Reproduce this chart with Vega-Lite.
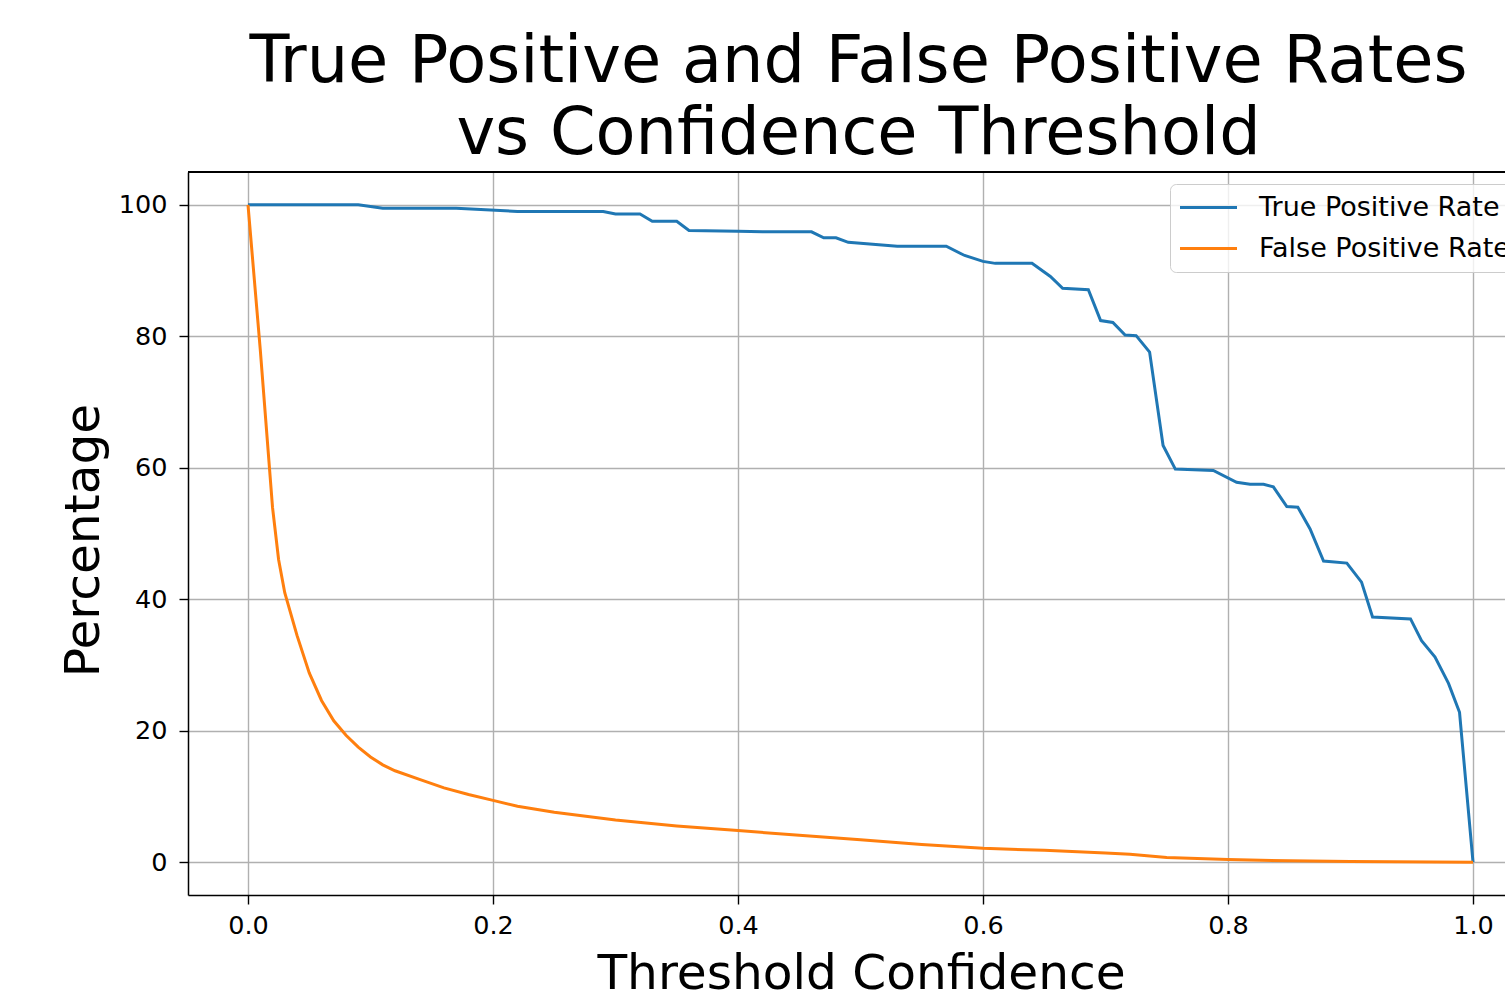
{
  "$schema": "https://vega.github.io/schema/vega-lite/v6.json",
  "width": 1317,
  "height": 723,
  "autosize": {"type": "none"},
  "padding": {"left": 188, "top": 172, "right": 0, "bottom": 96},
  "background": "white",
  "config": {"view": {"stroke": null}, "font": "DejaVu Sans"},
  "title": {
    "text": ["True Positive and False Positive Rates", "vs Confidence Threshold"],
    "font": "DejaVu Sans",
    "fontSize": 65.4,
    "fontWeight": "normal",
    "color": "black",
    "lineHeight": 72,
    "anchor": "middle",
    "frame": "group",
    "baseline": "alphabetic",
    "offset": 18,
    "dx": 12,
    "dy": 66
  },
  "data": {
    "values": [
      {"series": "True Positive Rate", "threshold": 0.0, "percent": 100},
      {"series": "True Positive Rate", "threshold": 0.09, "percent": 100},
      {"series": "True Positive Rate", "threshold": 0.11, "percent": 99.5},
      {"series": "True Positive Rate", "threshold": 0.17, "percent": 99.5},
      {"series": "True Positive Rate", "threshold": 0.19, "percent": 99.3},
      {"series": "True Positive Rate", "threshold": 0.22, "percent": 99.0},
      {"series": "True Positive Rate", "threshold": 0.29, "percent": 99.0},
      {"series": "True Positive Rate", "threshold": 0.30, "percent": 98.6},
      {"series": "True Positive Rate", "threshold": 0.32, "percent": 98.6},
      {"series": "True Positive Rate", "threshold": 0.33, "percent": 97.5},
      {"series": "True Positive Rate", "threshold": 0.35, "percent": 97.5},
      {"series": "True Positive Rate", "threshold": 0.36, "percent": 96.1},
      {"series": "True Positive Rate", "threshold": 0.40, "percent": 96.0},
      {"series": "True Positive Rate", "threshold": 0.42, "percent": 95.9},
      {"series": "True Positive Rate", "threshold": 0.46, "percent": 95.9},
      {"series": "True Positive Rate", "threshold": 0.47, "percent": 95.0},
      {"series": "True Positive Rate", "threshold": 0.48, "percent": 95.0},
      {"series": "True Positive Rate", "threshold": 0.49, "percent": 94.3},
      {"series": "True Positive Rate", "threshold": 0.53, "percent": 93.7},
      {"series": "True Positive Rate", "threshold": 0.57, "percent": 93.7},
      {"series": "True Positive Rate", "threshold": 0.585, "percent": 92.3},
      {"series": "True Positive Rate", "threshold": 0.60, "percent": 91.4},
      {"series": "True Positive Rate", "threshold": 0.61, "percent": 91.1},
      {"series": "True Positive Rate", "threshold": 0.64, "percent": 91.1},
      {"series": "True Positive Rate", "threshold": 0.655, "percent": 89.1},
      {"series": "True Positive Rate", "threshold": 0.665, "percent": 87.3},
      {"series": "True Positive Rate", "threshold": 0.686, "percent": 87.1},
      {"series": "True Positive Rate", "threshold": 0.696, "percent": 82.4},
      {"series": "True Positive Rate", "threshold": 0.706, "percent": 82.1},
      {"series": "True Positive Rate", "threshold": 0.716, "percent": 80.2},
      {"series": "True Positive Rate", "threshold": 0.725, "percent": 80.1},
      {"series": "True Positive Rate", "threshold": 0.736, "percent": 77.6},
      {"series": "True Positive Rate", "threshold": 0.747, "percent": 63.4},
      {"series": "True Positive Rate", "threshold": 0.757, "percent": 59.8},
      {"series": "True Positive Rate", "threshold": 0.788, "percent": 59.6},
      {"series": "True Positive Rate", "threshold": 0.807, "percent": 57.8},
      {"series": "True Positive Rate", "threshold": 0.818, "percent": 57.5},
      {"series": "True Positive Rate", "threshold": 0.829, "percent": 57.5},
      {"series": "True Positive Rate", "threshold": 0.837, "percent": 57.1},
      {"series": "True Positive Rate", "threshold": 0.848, "percent": 54.1},
      {"series": "True Positive Rate", "threshold": 0.857, "percent": 54.0},
      {"series": "True Positive Rate", "threshold": 0.867, "percent": 50.7},
      {"series": "True Positive Rate", "threshold": 0.878, "percent": 45.8},
      {"series": "True Positive Rate", "threshold": 0.897, "percent": 45.5},
      {"series": "True Positive Rate", "threshold": 0.909, "percent": 42.6},
      {"series": "True Positive Rate", "threshold": 0.918, "percent": 37.3},
      {"series": "True Positive Rate", "threshold": 0.949, "percent": 37.0},
      {"series": "True Positive Rate", "threshold": 0.958, "percent": 33.7},
      {"series": "True Positive Rate", "threshold": 0.969, "percent": 31.2},
      {"series": "True Positive Rate", "threshold": 0.980, "percent": 27.2},
      {"series": "True Positive Rate", "threshold": 0.989, "percent": 22.8},
      {"series": "True Positive Rate", "threshold": 1.0, "percent": 0},
      {"series": "False Positive Rate", "threshold": 0.0, "percent": 100},
      {"series": "False Positive Rate", "threshold": 0.01, "percent": 78},
      {"series": "False Positive Rate", "threshold": 0.02, "percent": 54},
      {"series": "False Positive Rate", "threshold": 0.025, "percent": 46},
      {"series": "False Positive Rate", "threshold": 0.03, "percent": 41},
      {"series": "False Positive Rate", "threshold": 0.04, "percent": 34.5},
      {"series": "False Positive Rate", "threshold": 0.05, "percent": 28.8},
      {"series": "False Positive Rate", "threshold": 0.06, "percent": 24.6},
      {"series": "False Positive Rate", "threshold": 0.07, "percent": 21.5},
      {"series": "False Positive Rate", "threshold": 0.08, "percent": 19.3},
      {"series": "False Positive Rate", "threshold": 0.09, "percent": 17.5},
      {"series": "False Positive Rate", "threshold": 0.10, "percent": 16.0},
      {"series": "False Positive Rate", "threshold": 0.11, "percent": 14.8},
      {"series": "False Positive Rate", "threshold": 0.12, "percent": 13.9},
      {"series": "False Positive Rate", "threshold": 0.14, "percent": 12.6},
      {"series": "False Positive Rate", "threshold": 0.16, "percent": 11.3},
      {"series": "False Positive Rate", "threshold": 0.18, "percent": 10.3},
      {"series": "False Positive Rate", "threshold": 0.20, "percent": 9.4},
      {"series": "False Positive Rate", "threshold": 0.22, "percent": 8.5},
      {"series": "False Positive Rate", "threshold": 0.25, "percent": 7.6},
      {"series": "False Positive Rate", "threshold": 0.30, "percent": 6.4},
      {"series": "False Positive Rate", "threshold": 0.35, "percent": 5.5},
      {"series": "False Positive Rate", "threshold": 0.40, "percent": 4.8},
      {"series": "False Positive Rate", "threshold": 0.45, "percent": 4.1},
      {"series": "False Positive Rate", "threshold": 0.50, "percent": 3.4},
      {"series": "False Positive Rate", "threshold": 0.55, "percent": 2.7},
      {"series": "False Positive Rate", "threshold": 0.60, "percent": 2.1},
      {"series": "False Positive Rate", "threshold": 0.65, "percent": 1.8},
      {"series": "False Positive Rate", "threshold": 0.70, "percent": 1.4},
      {"series": "False Positive Rate", "threshold": 0.72, "percent": 1.2},
      {"series": "False Positive Rate", "threshold": 0.75, "percent": 0.7},
      {"series": "False Positive Rate", "threshold": 0.80, "percent": 0.4},
      {"series": "False Positive Rate", "threshold": 0.85, "percent": 0.2},
      {"series": "False Positive Rate", "threshold": 0.90, "percent": 0.1},
      {"series": "False Positive Rate", "threshold": 1.0, "percent": 0}
    ]
  },
  "layer": [
    {
      "mark": {"type": "rule", "color": "black", "strokeWidth": 1.5},
      "encoding": {"y": {"datum": 105}}
    },
    {
      "mark": {"type": "line", "strokeWidth": 3, "clip": true},
      "encoding": {
        "x": {
          "field": "threshold",
          "type": "quantitative",
          "scale": {"domain": [-0.04898, 1.02612], "nice": false, "zero": false},
          "axis": {
            "values": [0, 0.2, 0.4, 0.6, 0.8, 1.0],
            "format": ".1f",
            "grid": true,
            "gridColor": "#b0b0b0",
            "gridWidth": 1.4,
            "domainColor": "black",
            "domainWidth": 1.5,
            "tickColor": "black",
            "tickWidth": 1.4,
            "tickSize": 9,
            "labelFont": "DejaVu Sans",
            "labelFontSize": 25.5,
            "labelColor": "black",
            "labelPadding": 9,
            "title": "Threshold Confidence",
            "titleFont": "DejaVu Sans",
            "titleFontSize": 48.6,
            "titleFontWeight": "normal",
            "titleColor": "black",
            "titleX": 673,
            "titleY": 93,
            "titleAlign": "center",
            "titleBaseline": "alphabetic"
          }
        },
        "y": {
          "field": "percent",
          "type": "quantitative",
          "scale": {"domain": [-5, 105], "nice": false, "zero": false},
          "axis": {
            "values": [0, 20, 40, 60, 80, 100],
            "grid": true,
            "gridColor": "#b0b0b0",
            "gridWidth": 1.4,
            "domainColor": "black",
            "domainWidth": 1.5,
            "tickColor": "black",
            "tickWidth": 1.4,
            "tickSize": 9,
            "labelFont": "DejaVu Sans",
            "labelFontSize": 25.5,
            "labelColor": "black",
            "labelPadding": 12,
            "title": "Percentage",
            "titleFont": "DejaVu Sans",
            "titleFontSize": 48.6,
            "titleFontWeight": "normal",
            "titleColor": "black",
            "titleAngle": -90,
            "titleX": -90,
            "titleY": 368,
            "titleAlign": "center",
            "titleBaseline": "alphabetic"
          }
        },
        "color": {
          "field": "series",
          "type": "nominal",
          "scale": {"domain": ["True Positive Rate", "False Positive Rate"], "range": ["#1f77b4", "#ff7f0e"]},
          "legend": {
            "title": null,
            "orient": "none",
            "legendX": 982,
            "legendY": 12,
            "fillColor": "rgba(255,255,255,0.8)",
            "strokeColor": "#cccccc",
            "cornerRadius": 6,
            "padding": 10,
            "symbolType": "M-5.7,0H5.7",
            "symbolSize": 100,
            "symbolStrokeWidth": 3,
            "symbolOffset": 15,
            "labelFont": "DejaVu Sans",
            "labelFontSize": 27,
            "labelColor": "black",
            "labelOffset": 37,
            "labelLimit": 500,
            "rowPadding": 13
          }
        }
      }
    }
  ]
}
